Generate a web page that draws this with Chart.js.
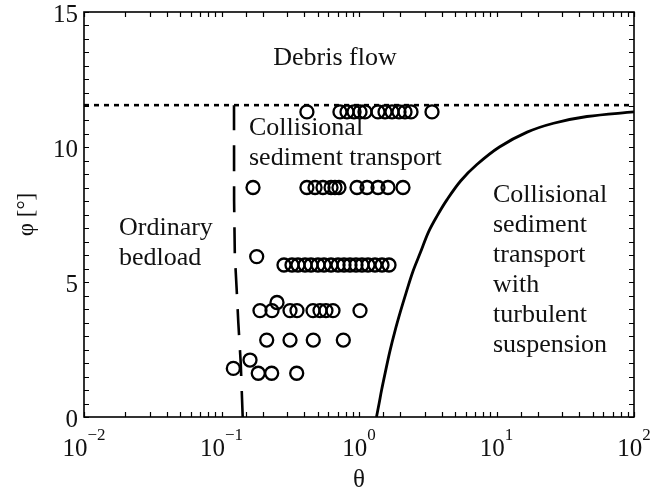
<!DOCTYPE html>
<html><head><meta charset="utf-8">
<script src="https://cdn.jsdelivr.net/npm/chart.js@4.4.0/dist/chart.umd.min.js"></script>
<style>html,body{margin:0;padding:0;background:#fff}#wrap{width:651px;height:497px;position:relative}</style>
</head><body><div id="wrap"><canvas id="c"></canvas></div>
<script>
// ---- data ----
const pointTheta = [
  0.418, 0.727, 0.818, 0.920, 1.017, 1.106, 1.375, 1.546, 1.738, 1.954, 2.160, 2.389, 3.396,
  0.1695, 0.418, 0.479, 0.547, 0.626, 0.669, 0.715, 0.967, 1.144, 1.375, 1.625, 2.089,
  0.1803, 0.2848, 0.3256, 0.360, 0.405, 0.4477, 0.503, 0.5567, 0.626, 0.704, 0.778, 0.860, 0.951, 1.051, 1.163, 1.307, 1.470, 1.653,
  0.1905, 0.233, 0.2533, 0.315, 0.354, 0.463, 0.5205, 0.575, 0.647, 1.017,
  0.2132, 0.315, 0.465, 0.769,
  0.1219, 0.1612, 0.1851, 0.2317, 0.3523
];
const pointPhi = [
  11.3, 11.3, 11.3, 11.3, 11.3, 11.3, 11.3, 11.3, 11.3, 11.3, 11.3, 11.3, 11.3,
  8.5, 8.5, 8.5, 8.5, 8.5, 8.5, 8.5, 8.5, 8.5, 8.5, 8.5, 8.5,
  5.94, 5.63, 5.63, 5.63, 5.63, 5.63, 5.63, 5.63, 5.63, 5.63, 5.63, 5.63, 5.63, 5.63, 5.63, 5.63, 5.63, 5.63,
  3.94, 3.94, 4.24, 3.94, 3.94, 3.94, 3.94, 3.94, 3.94, 3.94,
  2.85, 2.85, 2.85, 2.85,
  1.80, 2.11, 1.62, 1.62, 1.62
];
const bedloadTheta = [0.1426, 0.138, 0.1325, 0.129, 0.125, 0.1235, 0.1233];
const bedloadPhi   = [0, 2, 3.5, 4.7, 6, 8, 11.55];
const debrisTheta  = [0.01, 100];
const debrisPhi    = [11.55, 11.55];
const suspTheta = [1.34, 1.40, 1.46, 1.56, 1.68, 1.83, 2.0, 2.2, 2.47, 2.8, 3.2, 3.7, 4.37, 5.5, 7.2, 10.5, 16.7, 26, 45.5, 100];
const suspPhi   = [0, 0.5, 1.0, 1.7, 2.45, 3.2, 3.9, 4.6, 5.4, 6.1, 6.85, 7.45, 8.05, 8.75, 9.35, 10.0, 10.55, 10.88, 11.13, 11.3];
const xTickValues = [0.01, 0.1, 1, 10, 100];
const xTickBase = '10';
const xTickExps = ['\u22122', '\u22121', '0', '1', '2'];
const yTickLabels = ['0', '5', '10', '15'];
const regionLabels = [
  ['Debris flow'],
  ['Collisional', 'sediment transport'],
  ['Ordinary', 'bedload'],
  ['Collisional', 'sediment', 'transport', 'with', 'turbulent', 'suspension']
];

const zip = (a, b) => a.map((v, i) => ({x: v, y: b[i]}));
const SERIF = '"Liberation Serif","Times New Roman",Times,serif';
const INK = '#111';

const decor = {
  id: 'decor',
  afterDraw(chart) {
    const {ctx, chartArea: a, scales: {x, y}} = chart;
    ctx.save();
    ctx.strokeStyle = '#000';
    ctx.lineWidth = 1.2;
    const tl = 5;
    ctx.beginPath();
    for (const t of x.ticks) {
      const px = Math.round(x.getPixelForValue(t.value)) + 0.5;
      if (px < a.left - 1 || px > a.right + 1) continue;
      ctx.moveTo(px, a.bottom); ctx.lineTo(px, a.bottom - tl);
      ctx.moveTo(px, a.top); ctx.lineTo(px, a.top + tl);
    }
    for (const t of y.ticks) {
      const py = Math.round(y.getPixelForValue(t.value)) + 0.5;
      ctx.moveTo(a.left, py); ctx.lineTo(a.left + tl, py);
      ctx.moveTo(a.right, py); ctx.lineTo(a.right - tl, py);
    }
    ctx.stroke();
    ctx.lineWidth = 1.6;
    ctx.strokeRect(a.left, a.top, a.right - a.left, a.bottom - a.top);

    // x tick labels with superscripts
    ctx.fillStyle = INK;
    ctx.textBaseline = 'alphabetic';
    ctx.textAlign = 'left';
    xTickValues.forEach((v, i) => {
      const px = x.getPixelForValue(v);
      ctx.font = '25px ' + SERIF;
      const w1 = ctx.measureText(xTickBase).width;
      ctx.font = '17px ' + SERIF;
      const w2 = ctx.measureText(xTickExps[i]).width;
      const x0 = px - (w1 + w2) / 2;
      ctx.font = '25px ' + SERIF;
      ctx.fillText(xTickBase, x0, 456);
      ctx.font = '17px ' + SERIF;
      ctx.fillText(xTickExps[i], x0 + w1, 440);
    });

    // region labels
    ctx.font = '26px ' + SERIF;
    ctx.textBaseline = 'middle';
    ctx.textAlign = 'center';
    ctx.fillText(regionLabels[0][0], 335, 58);
    ctx.textAlign = 'left';
    regionLabels[1].forEach((s, i) => ctx.fillText(s, 249, 128 + i * 30));
    regionLabels[2].forEach((s, i) => ctx.fillText(s, 119, 228 + i * 30));
    regionLabels[3].forEach((s, i) => ctx.fillText(s, 493, 195 + i * 30));
    ctx.restore();
  }
};

new Chart(document.getElementById('c'), {
  type: 'scatter',
  data: {
    datasets: [
      {
        data: zip(pointTheta, pointPhi),
        pointStyle: 'circle', pointRadius: 6.5, pointBorderWidth: 2.3,
        pointBorderColor: '#000', pointBackgroundColor: 'rgba(0,0,0,0)',
        showLine: false, order: 1
      },
      {
        data: zip(bedloadTheta, bedloadPhi), showLine: true, pointRadius: 0,
        borderColor: '#000', borderWidth: 2.6, borderDash: [26, 15], tension: 0, order: 2
      },
      {
        data: zip(debrisTheta, debrisPhi), showLine: true, pointRadius: 0,
        borderColor: '#000', borderWidth: 2.6, borderDash: [5, 5], order: 2
      },
      {
        data: zip(suspTheta, suspPhi), showLine: true, pointRadius: 0,
        borderColor: '#000', borderWidth: 2.8, tension: 0.35, order: 2
      }
    ]
  },
  options: {
    responsive: true, maintainAspectRatio: false, animation: false,
    devicePixelRatio: 1,
    layout: {padding: {left: 0, right: 17, top: 12, bottom: 0}},
    plugins: {legend: {display: false}, tooltip: {enabled: false}},
    scales: {
      x: {
        type: 'logarithmic', min: 0.01, max: 100,
        grid: {display: false, drawTicks: false},
        border: {display: false},
        ticks: {display: false, autoSkip: false},
        title: {display: true, text: '\u03B8', color: INK, font: {family: SERIF, size: 25}, padding: {top: 0, bottom: 2}},
        afterFit: s => { s.height = 80; s.paddingLeft = 0; s.paddingRight = 0; }
      },
      y: {
        type: 'linear', min: 0, max: 15,
        grid: {display: false, drawTicks: false},
        border: {display: false},
        ticks: {
          stepSize: 0.5, autoSkip: false, padding: 6, labelOffset: 3,
          color: INK, font: {family: SERIF, size: 25},
          callback: v => (v % 5 === 0 ? yTickLabels[v / 5] : '')
        },
        title: {display: true, text: '\u03C6 [\u00B0]', color: INK, font: {family: SERIF, size: 23}, padding: {top: 13, bottom: 0}},
        afterFit: s => { s.width = 84; s.paddingTop = 0; s.paddingBottom = 0; }
      }
    }
  },
  plugins: [decor]
});
</script>
</body></html>
